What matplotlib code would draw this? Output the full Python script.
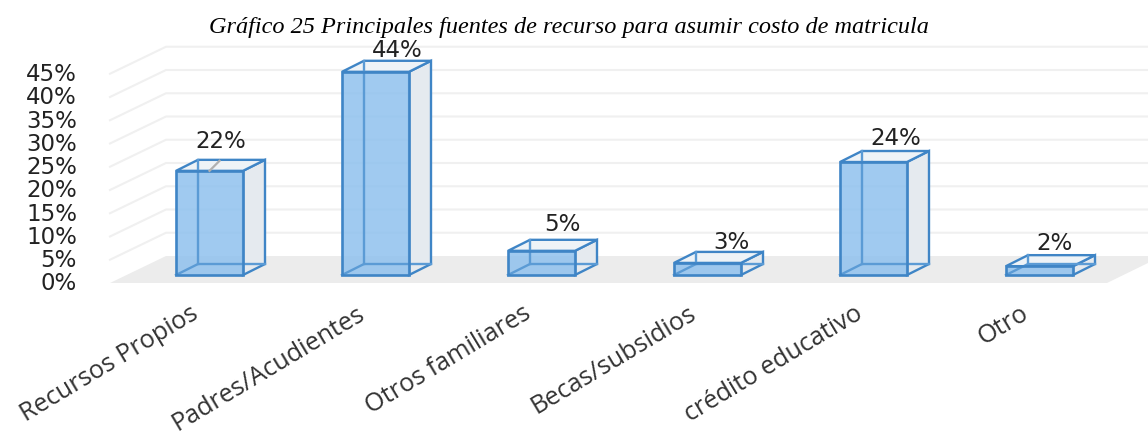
import matplotlib
matplotlib.use("Agg")
import numpy as np
import matplotlib.pyplot as plt
from matplotlib.patches import Polygon

categories = ["Recursos Propios", "Padres/Acudientes", "Otros familiares",
              "Becas/subsidios", "crédito educativo", "Otro"]
values = [22.4, 43.7, 5.2, 2.6, 24.3, 1.9]
shown = ["22%", "44%", "5%", "3%", "24%", "2%"]
ticks = [0, 5, 10, 15, 20, 25, 30, 35, 40, 45]
title = "Gráfico 25 Principales fuentes de recurso para asumir costo de matricula"

W, H = 1148, 438
X0, STEP = 209.5, 166.0   # pixel of first bar centre, pixels per category
Y0, UNIT = 275.0, 4.65    # pixel of value 0 at bar front, pixels per percent


def px(x):
    return (x - X0) / STEP


def py(y):
    return (Y0 - y) / UNIT


fig = plt.figure(figsize=(W / 100, H / 100), dpi=100)
ax = fig.add_axes([0, 0, 1, 1])
ax.set_xlim(px(0), px(W))
ax.set_ylim(py(H), py(0))
ax.axis("off")

# depth of the 3D box, in data units
bar_w = 67 / STEP
dx, dy = 22 / STEP, 11 / UNIT

# floor
floor = [(px(110), py(283)), (px(166), py(256)), (px(W), py(256)),
         (px(W), py(263)), (px(1107), py(283))]
ax.add_patch(Polygon(floor, closed=True, fc="#ececec", ec="none", zorder=1))

# gridlines on side wall and back wall
wall_base = py(283)
back_base = py(256)
for t in ticks[1:]:
    ax.plot([px(110), px(166), px(W)],
            [wall_base + t, back_base + t, back_base + t],
            color="#f0f0f0", lw=1.5, zorder=1)

# y tick labels
for t in ticks:
    ax.text(px(77), wall_base + t - 0.2, f"{t}%", ha="right", va="center",
            fontsize=16.5, color="#222222", family="DejaVu Sans", zorder=5)

edge = "#3f85c6"
for i, v in enumerate(values):
    l, r = i - bar_w / 2, i + bar_w / 2
    # back faces
    ax.add_patch(Polygon([(r, 0), (r + dx, dy), (r + dx, v + dy), (r, v)],
                         fc="#e5eaef", ec=edge, lw=1.7, zorder=3))
    ax.add_patch(Polygon([(l, v), (l + dx, v + dy), (r + dx, v + dy), (r, v)],
                         fc="#eef3f7", ec=edge, lw=1.7, zorder=3))
    # front face
    ax.add_patch(Polygon([(l, 0), (r, 0), (r, v), (l, v)],
                         fc="#8fc1ee", alpha=0.85, ec="none", zorder=4))
    # inner edges seen through the front
    ax.plot([l + dx, l + dx], [dy, v + dy], color="#5b9bd5", lw=1.7, zorder=4.5)
    ax.plot([l, l + dx, r + dx], [0, dy, dy], color="#5b9bd5", lw=1.7, zorder=4.5)
    ax.add_patch(Polygon([(l, 0), (r, 0), (r, v), (l, v)],
                         fc="none", ec=edge, lw=1.9, zorder=4.6))

# data labels, offsets in pixels from the bar's top-left corner
label_dx = [44.5, 55, 54, 57, 56, 48]
label_dy = [29, 21, 26, 20, 24, 23]
for i, v in enumerate(values):
    ax.text(i - bar_w / 2 + label_dx[i] / STEP, v + label_dy[i] / UNIT, shown[i],
            ha="center", va="center", fontsize=16.5, color="#222222",
            family="DejaVu Sans", zorder=6)

# leader line of the first label
ax.plot([0, 10 / STEP], [values[0], values[0] + 10 / UNIT], color="#b0b0b0", lw=1.6, zorder=5)

# category labels
for i, c in enumerate(categories):
    ax.text(i - 13 / STEP, py(312), c, rotation=31, rotation_mode="anchor",
            ha="right", va="center", fontsize=18.2, color="#333333",
            family="Open Sans", clip_on=False, zorder=5)

ax.text(px(569), py(28), title, ha="center", va="center", fontsize=17.5,
        style="italic", family="Liberation Serif", color="black")

fig.savefig("out.png", dpi=100)
